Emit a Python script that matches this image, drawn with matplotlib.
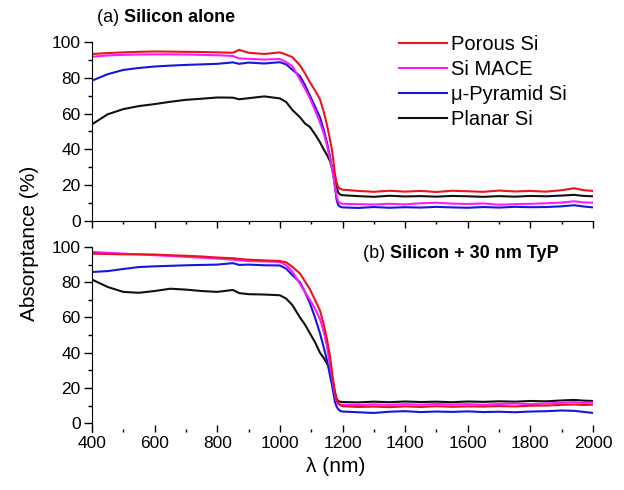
import matplotlib
matplotlib.use("Agg")
import matplotlib.pyplot as plt
from matplotlib.ticker import MultipleLocator

plt.rcParams['font.family'] = ['Liberation Sans', 'DejaVu Sans']

# wavelength grid (nm) shared by all curves
wl = [400, 450, 500, 550, 600, 650, 700, 750, 800, 850, 870, 900, 950, 1000,
      1020, 1040, 1064, 1080, 1096, 1112, 1128, 1140, 1150, 1160, 1166, 1172,
      1176, 1181, 1186, 1192, 1200, 1250, 1300, 1350, 1400, 1450, 1500, 1550,
      1600, 1650, 1700, 1750, 1800, 1850, 1900, 1940, 1970, 2000]

labels = ['Porous Si', 'Si MACE', '\u03bc-Pyramid Si', 'Planar Si']
colors = ['#e8141e', '#ff1aff', '#1515e0', '#111111']

# (a) Silicon alone
a_porous = [93.3, 93.8, 94.2, 94.5, 94.7, 94.6, 94.5, 94.4, 94.2, 94.0, 95.6, 94.0, 93.3, 94.2,
            93.0, 91.5, 87.0, 82.5, 77.5, 73.0, 68.0, 61.0, 54.0, 45.5, 40.0, 32.0,
            26.0, 21.5, 19.0, 18.0, 17.5, 16.8, 16.3, 16.9, 16.4, 16.8, 16.2, 16.9,
            16.6, 16.3, 17.0, 16.5, 16.8, 16.4, 17.2, 18.3, 17.2, 16.8]
a_mace = [91.8, 92.5, 92.8, 93.0, 93.1, 93.1, 93.0, 92.8, 92.6, 92.2, 90.8, 90.6, 90.2, 90.5,
          88.8, 86.5, 79.0, 74.0, 68.5, 62.0, 55.0, 49.0, 42.5, 35.0, 30.0, 24.0,
          19.0, 14.0, 11.0, 10.0, 9.6, 9.4, 9.2, 9.6, 9.3, 9.9, 10.2, 9.7,
          9.5, 9.8, 9.1, 9.4, 9.6, 9.9, 10.3, 11.0, 10.4, 10.2]
a_pyramid = [78.4, 82.0, 84.4, 85.5, 86.3, 86.8, 87.2, 87.5, 87.8, 88.6, 87.8, 88.5, 88.0, 88.7,
             87.5, 84.5, 81.0, 76.0, 70.0, 64.0, 58.0, 51.0, 44.0, 36.0, 30.0, 24.0,
             19.0, 12.0, 9.0, 8.0, 7.6, 7.3, 7.8, 7.4, 7.7, 7.5, 7.9, 7.6,
             7.4, 7.8, 7.5, 7.9, 7.7, 7.8, 8.2, 8.8, 8.1, 7.6]
a_planar = [54.0, 59.6, 62.5, 64.2, 65.3, 66.6, 67.7, 68.3, 69.0, 68.9, 68.0, 68.6, 69.6, 68.5,
            66.5, 62.0, 58.0, 54.5, 52.5, 48.5, 44.0, 40.0, 37.0, 33.5, 30.0, 27.0,
            25.0, 20.0, 16.0, 14.8, 14.4, 13.9, 13.5, 14.1, 13.7, 13.9, 13.6, 14.0,
            13.8, 13.5, 13.9, 13.6, 14.0, 13.8, 14.2, 14.6, 14.0, 13.8]

# (b) Silicon + 30 nm TyP
b_porous = [96.2, 96.0, 95.8, 95.8, 95.7, 95.3, 95.0, 94.6, 94.0, 93.6, 93.2, 92.8, 92.4, 92.0,
            91.3, 88.7, 85.0, 80.5, 76.0, 70.0, 64.0, 56.0, 48.0, 38.0, 30.0, 22.0,
            17.0, 13.5, 11.5, 10.3, 9.6, 9.2, 9.4, 9.1, 9.5, 9.2, 9.6, 9.3,
            9.5, 9.4, 9.7, 9.5, 9.9, 10.0, 10.4, 10.6, 10.3, 10.5]
b_mace = [97.2, 96.7, 96.2, 95.8, 95.3, 94.9, 94.4, 93.9, 93.4, 92.8, 92.5, 92.0, 91.8, 91.5,
          89.6, 86.0, 79.0, 74.5, 70.0, 65.0, 59.0, 52.0, 44.0, 33.0, 27.0, 20.0,
          16.0, 12.5, 11.0, 10.6, 10.5, 10.3, 10.7, 10.4, 10.8, 10.5, 10.9, 10.6,
          10.8, 10.5, 10.9, 11.1, 10.8, 11.2, 11.6, 12.0, 11.5, 11.8]
b_pyramid = [85.8, 86.3, 87.5, 88.6, 89.0, 89.3, 89.6, 89.8, 90.0, 90.8, 89.8, 90.0, 89.6, 89.5,
             87.7, 84.0, 80.0, 74.5, 68.0, 60.0, 51.0, 43.0, 36.0, 27.0, 22.0, 16.0,
             12.0, 9.5, 8.0, 7.0, 6.6, 6.2, 5.8, 6.5, 6.8, 6.3, 6.6, 6.4,
             6.7, 6.3, 6.5, 6.2, 6.6, 6.8, 7.2, 7.0, 6.4, 5.8]
b_planar = [81.5, 77.3, 74.5, 74.0, 75.0, 76.3, 75.8, 75.0, 74.5, 75.6, 73.8, 73.2, 73.0, 72.6,
            70.7, 67.0, 60.0, 56.0, 51.0, 46.0, 40.0, 37.0, 34.0, 30.5, 26.0, 21.0,
            17.5, 14.0, 12.5, 12.2, 12.0, 11.8, 12.2, 11.9, 12.3, 12.0, 12.2, 11.9,
            12.3, 12.1, 12.4, 12.2, 12.6, 12.4, 12.9, 13.2, 12.8, 12.6]

fig = plt.figure(figsize=(6.24, 4.90), dpi=100)
ax1 = fig.add_axes([0.1474, 0.549, 0.803, 0.3653])
ax2 = fig.add_axes([0.1474, 0.1184, 0.803, 0.3776])

panels = [(ax1, [a_porous, a_mace, a_pyramid, a_planar]),
          (ax2, [b_porous, b_mace, b_pyramid, b_planar])]
for ax, series in panels:
    # planar first so porous ends up on top
    for i in [3, 2, 1, 0]:
        ax.plot(wl, series[i], color=colors[i], lw=1.5, label=labels[i])
    ax.set_xlim(400, 2000)
    ax.xaxis.set_major_locator(MultipleLocator(200))
    ax.xaxis.set_minor_locator(MultipleLocator(100))
    ax.yaxis.set_major_locator(MultipleLocator(20))
    ax.yaxis.set_minor_locator(MultipleLocator(10))
    ax.spines['top'].set_visible(False)
    ax.spines['right'].set_visible(False)
    ax.tick_params(axis='y', which='major', direction='out', length=6, width=1, labelsize=12.5, pad=2)
    ax.tick_params(axis='y', which='minor', direction='out', length=3, width=1)
    ax.set_facecolor('none')

ax1.set_ylim(0, 100)
ax1.tick_params(axis='x', which='major', direction='out', length=5, width=1, labelbottom=False)
ax1.tick_params(axis='x', which='minor', direction='out', length=2.5, width=1)

ax2.set_ylim(-5, 100)
ax2.spines['bottom'].set_visible(False)
ax2.tick_params(axis='x', which='major', direction='in', length=5, width=1, labelsize=12.5, pad=3)
ax2.tick_params(axis='x', which='minor', direction='in', length=2.5, width=1)

# legend in the top panel
handles, labs = ax1.get_legend_handles_labels()
order = [3, 2, 1, 0]
ax1.legend([handles[k] for k in order], [labs[k] for k in order],
           loc='upper left', bbox_to_anchor=(0.613, 1.04), frameon=False,
           fontsize=14.5, handlelength=2.4, handletextpad=0.2, labelspacing=0.3,
           borderpad=0, borderaxespad=0)

# panel titles: normal prefix + bold text
ta = fig.text(97 / 624, 1 - 18 / 490, '(a) ', fontsize=13, va='center', ha='left')
ax1.annotate('Silicon alone', xy=(1, 0.5), xycoords=ta, va='center', ha='left',
             fontsize=13, fontweight='bold')
tb = fig.text(363 / 624, 1 - 253 / 490, '(b) ', fontsize=13, va='center', ha='left')
ax2.annotate('Silicon + 30 nm TyP', xy=(1, 0.5), xycoords=tb, va='center', ha='left',
             fontsize=13, fontweight='bold')

fig.text(30 / 624, 1 - 243 / 490, 'Absorptance (%)', rotation=90, fontsize=15,
         va='center', ha='center')
fig.text(336 / 624, 1 - 466 / 490, '\u03bb (nm)', fontsize=15, va='center', ha='center')

fig.savefig('out.png', dpi=100)
